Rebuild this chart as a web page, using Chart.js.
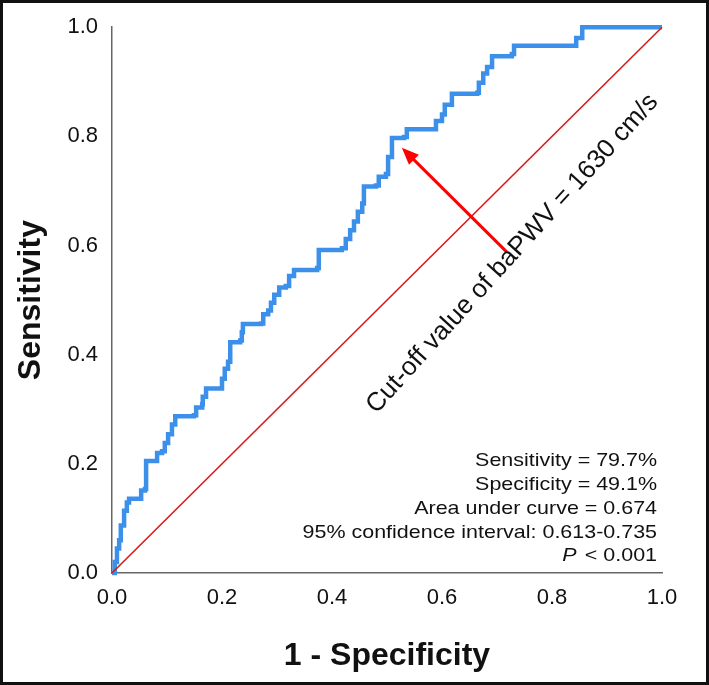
<!DOCTYPE html>
<html>
<head>
<meta charset="utf-8">
<script src="https://cdn.jsdelivr.net/npm/chart.js@4.4.1/dist/chart.umd.min.js"></script>
<style>
  html, body { margin: 0; padding: 0; background: #fff; }
  #wrap { position: relative; width: 709px; height: 685px; }
  #frame { position: absolute; left: 0; top: 0; width: 709px; height: 685px;
           box-sizing: border-box; border: 3px solid #111; pointer-events: none; }
</style>
</head>
<body>
<div id="wrap">
  <canvas id="rocChart" width="709" height="685"></canvas>
  <div id="frame"></div>
</div>
<script>
// ROC curve vertices (x = 1 - specificity, y = sensitivity)
const fpr = [0, 0.005, 0.009, 0.013, 0.016, 0.022, 0.027, 0.031, 0.049, 0.053, 0.06, 0.062, 0.076,
  0.082, 0.091, 0.096, 0.102, 0.109, 0.115, 0.149, 0.153, 0.164, 0.165, 0.171, 0.195, 0.2, 0.205,
  0.211, 0.215, 0.233, 0.236, 0.238, 0.271, 0.275, 0.284, 0.289, 0.295, 0.304, 0.316, 0.322, 0.331,
  0.373, 0.376, 0.418, 0.425, 0.433, 0.44, 0.447, 0.455, 0.458, 0.48, 0.485, 0.498, 0.502, 0.509,
  0.531, 0.536, 0.585, 0.589, 0.6, 0.605, 0.618, 0.664, 0.667, 0.675, 0.682, 0.691, 0.727, 0.731,
  0.84, 0.844, 0.855, 1];
const tpr = [0, 0.02, 0.045, 0.06, 0.087, 0.114, 0.129, 0.136, 0.136, 0.151, 0.154, 0.205, 0.205,
  0.22, 0.223, 0.238, 0.254, 0.272, 0.287, 0.289, 0.303, 0.309, 0.323, 0.338, 0.338, 0.356, 0.374,
  0.387, 0.423, 0.426, 0.441, 0.456, 0.457, 0.474, 0.481, 0.495, 0.51, 0.523, 0.526, 0.544, 0.555,
  0.559, 0.592, 0.595, 0.612, 0.628, 0.644, 0.662, 0.677, 0.708, 0.71, 0.726, 0.731, 0.762, 0.797,
  0.799, 0.813, 0.813, 0.828, 0.84, 0.858, 0.878, 0.88, 0.898, 0.915, 0.927, 0.947, 0.951, 0.966,
  0.966, 0.98, 1, 1];

// reference line (chance)
const refX = [0, 1];
const refY = [0, 1];

const tickValues = [0, 0.2, 0.4, 0.6, 0.8, 1.0];

// cut-off point and its label
const cutoffPoint = [0.509, 0.797];
const cutoffLabel = 'Cut-off value of baPWV = 1630 cm/s';

// statistics printed bottom right
const statLines = ['Sensitivity = 79.7%', 'Specificity = 49.1%', 'Area under curve = 0.674',
  '95% confidence interval: 0.613-0.735'];
const pLabel = ['P', ' < 0.001'];

// layout of the annotations (data units)
const notes = {
  arrowTail: [0.718, 0.588],
  arrowHeadGap: 0.018,
  labelCenter: [0.728, 0.585],
  labelAngle: -47.8,
  statRight: 0.991,
  statTop: 0.205,
  statStep: 0.0435
};

const FONT = 'Arial, "Liberation Sans", sans-serif';

const rocNotes = {
  id: 'rocNotes',
  afterDatasetsDraw(chart) {
    const { ctx, scales: { x, y } } = chart;
    ctx.save();

    // arrow pointing at cut-off
    const tx = x.getPixelForValue(notes.arrowTail[0]);
    const ty = y.getPixelForValue(notes.arrowTail[1]);
    const hx = x.getPixelForValue(cutoffPoint[0] + notes.arrowHeadGap);
    const hy = y.getPixelForValue(cutoffPoint[1] - notes.arrowHeadGap);
    const ang = Math.atan2(hy - ty, hx - tx);
    const headLen = 17, headW = 7;
    ctx.strokeStyle = '#ff0000';
    ctx.fillStyle = '#ff0000';
    ctx.lineWidth = 3;
    ctx.beginPath();
    ctx.moveTo(tx, ty);
    ctx.lineTo(hx - Math.cos(ang) * headLen * 0.8, hy - Math.sin(ang) * headLen * 0.8);
    ctx.stroke();
    ctx.beginPath();
    ctx.moveTo(hx, hy);
    ctx.lineTo(hx - Math.cos(ang) * headLen - Math.sin(ang) * headW,
               hy - Math.sin(ang) * headLen + Math.cos(ang) * headW);
    ctx.lineTo(hx - Math.cos(ang) * headLen + Math.sin(ang) * headW,
               hy - Math.sin(ang) * headLen - Math.cos(ang) * headW);
    ctx.closePath();
    ctx.fill();

    // rotated cut-off label
    ctx.fillStyle = '#111';
    ctx.font = '26px ' + FONT;
    ctx.textAlign = 'center';
    ctx.textBaseline = 'middle';
    ctx.translate(x.getPixelForValue(notes.labelCenter[0]), y.getPixelForValue(notes.labelCenter[1]));
    ctx.rotate(notes.labelAngle * Math.PI / 180);
    ctx.fillText(cutoffLabel, 0, 0);
    ctx.setTransform(1, 0, 0, 1, 0, 0);

    // statistics block (text in the figure is a little wide, so stretch it)
    const rx = x.getPixelForValue(notes.statRight);
    const stretch = 1.13;
    ctx.font = '19px ' + FONT;
    ctx.textAlign = 'right';
    ctx.translate(rx, 0);
    ctx.scale(stretch, 1);
    statLines.forEach((s, i) => {
      ctx.fillText(s, 0, y.getPixelForValue(notes.statTop - i * notes.statStep));
    });
    const py = y.getPixelForValue(notes.statTop - statLines.length * notes.statStep);
    ctx.fillText(pLabel[1], 0, py);
    const w = ctx.measureText(pLabel[1]).width;
    ctx.font = 'italic 19px ' + FONT;
    ctx.fillText(pLabel[0], -w - 2, py);

    ctx.restore();
  }
};

const ctx = document.getElementById('rocChart').getContext('2d');
new Chart(ctx, {
  type: 'scatter',
  data: {
    datasets: [{
      label: 'Reference',
      data: refX.map((v, i) => ({ x: v, y: refY[i] })),
      showLine: true,
      borderColor: '#d91a1a',
      borderWidth: 1.6,
      pointRadius: 0,
      order: 0,
      clip: 4
    }, {
      label: 'baPWV',
      data: fpr.map((v, i) => ({ x: v, y: tpr[i] })),
      showLine: true,
      stepped: 'before',
      borderColor: '#3c90ea',
      borderWidth: 4.5,
      pointRadius: 0,
      order: 1,
      clip: 6
    }]
  },
  options: {
    responsive: false,
    animation: false,
    layout: { padding: { top: 22, right: 47, left: 0, bottom: 0 } },
    plugins: { legend: { display: false }, tooltip: { enabled: false } },
    scales: {
      x: {
        type: 'linear', min: 0, max: 1,
        afterBuildTicks: s => { s.ticks = tickValues.map(v => ({ value: v })); },
        afterFit: s => { s.height = 112; },
        grid: { display: false, drawTicks: false },
        border: { display: true, color: '#666', width: 1.5 },
        ticks: { padding: 12, color: '#111', font: { family: FONT, size: 22 },
                 callback: v => Number(v).toFixed(1) },
        title: { display: true, text: '1 - Specificity', color: '#111',
                 font: { family: FONT, size: 32, weight: 'bold' }, padding: { bottom: 10 } }
      },
      y: {
        type: 'linear', min: 0, max: 1,
        afterBuildTicks: s => { s.ticks = tickValues.map(v => ({ value: v })); },
        afterFit: s => { s.width = 112; },
        grid: { display: false, drawTicks: false },
        border: { display: true, color: '#666', width: 1.5 },
        ticks: { padding: 14, color: '#111', font: { family: FONT, size: 22 },
                 callback: v => Number(v).toFixed(1) },
        title: { display: true, text: 'Sensitivity', color: '#111',
                 font: { family: FONT, size: 32, weight: 'bold' }, padding: { top: 12 } }
      }
    }
  },
  plugins: [rocNotes]
});
</script>
</body>
</html>
